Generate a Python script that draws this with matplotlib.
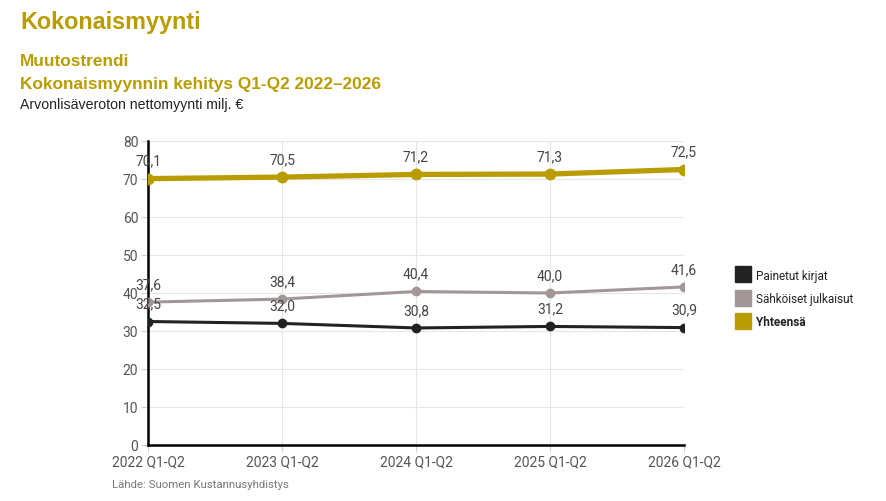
import numpy as np
import matplotlib.pyplot as plt
from matplotlib.lines import Line2D

periods = ["2022 Q1-Q2", "2023 Q1-Q2", "2024 Q1-Q2", "2025 Q1-Q2", "2026 Q1-Q2"]
painetut = [32.5, 32.0, 30.8, 31.2, 30.9]
sahkoiset = [37.6, 38.4, 40.4, 40.0, 41.6]
yhteensa = [70.1, 70.5, 71.2, 71.3, 72.5]

gold = "#b89c00"
grey = "#a39697"
black = "#222222"
narrow = ["Roboto", "DejaVu Sans"]

fig = plt.figure(figsize=(8.87, 5.02), dpi=100)
ax = fig.add_axes([148 / 887, 56 / 502, 536 / 887, 304 / 502])

x = np.arange(len(periods))
series = [(painetut, black, 2.2, 8), (sahkoiset, grey, 2.2, 8), (yhteensa, gold, 3.8, 10)]
for vals, col, lw, ms in series:
    ax.plot(x, vals, color=col, lw=lw, marker="o", ms=ms * 0.75, zorder=3)

# value labels
for vals in (painetut, sahkoiset, yhteensa):
    for xi, v in zip(x, vals):
        ax.annotate(f"{v:.1f}".replace(".", ","), (xi, v), xytext=(0, 8),
                    textcoords="offset points", ha="center", va="bottom",
                    fontsize=10, color="#444444", family=narrow, zorder=4)

ax.set_xlim(0, 4)
ax.set_ylim(0, 80)
ax.set_yticks(range(0, 81, 10))
ax.set_xticks(x)
ax.set_xticklabels(periods)
ax.grid(True, color="#e6e6e6", lw=0.8)
ax.set_axisbelow(True)
for s in ["top", "right"]:
    ax.spines[s].set_visible(False)
ax.spines["left"].set_linewidth(1.8)
ax.spines["bottom"].set_linewidth(1.8)
ax.tick_params(axis="both", colors="#d0d0d0", labelcolor="#555555", labelsize=10, length=5, pad=2)
for lab in ax.get_xticklabels() + ax.get_yticklabels():
    lab.set_family(narrow)

handles = [Line2D([], [], ls="none", marker="s", ms=11, color=c) for c in (black, grey, gold)]
leg = fig.legend(handles, ["Painetut kirjat", "Sähköiset julkaisut", "Yhteensä"],
                 loc="upper left", bbox_to_anchor=(725 / 887, 1 - 259 / 502), frameon=False,
                 prop={"family": narrow, "size": 8.5}, handletextpad=0.5, labelspacing=0.85,
                 handlelength=1.2)
leg.get_texts()[2].set_fontweight("bold")
for t in leg.get_texts():
    t.set_color("#222222")

fig.text(20 / 887, 1 - 22 / 502, "Kokonaismyynti", fontsize=16.8, fontweight="bold",
         color=gold, family="Liberation Sans", va="center")
fig.text(20 / 887, 1 - 61 / 502, "Muutostrendi", fontsize=12.4, fontweight="bold",
         color=gold, family="Liberation Sans", va="center")
fig.text(20 / 887, 1 - 84 / 502, "Kokonaismyynnin kehitys Q1-Q2 2022\u20132026", fontsize=12.4,
         fontweight="bold", color=gold, family="Liberation Sans", va="center")
fig.text(20 / 887, 1 - 105 / 502, "Arvonlisäveroton nettomyynti milj. €", fontsize=10.2,
         color="#222222", family="Liberation Sans", va="center")
fig.text(112 / 887, 1 - 485 / 502, "Lähde: Suomen Kustannusyhdistys", fontsize=8.2,
         color="#777777", family=narrow, va="center")

fig.savefig("out.png", dpi=100)
